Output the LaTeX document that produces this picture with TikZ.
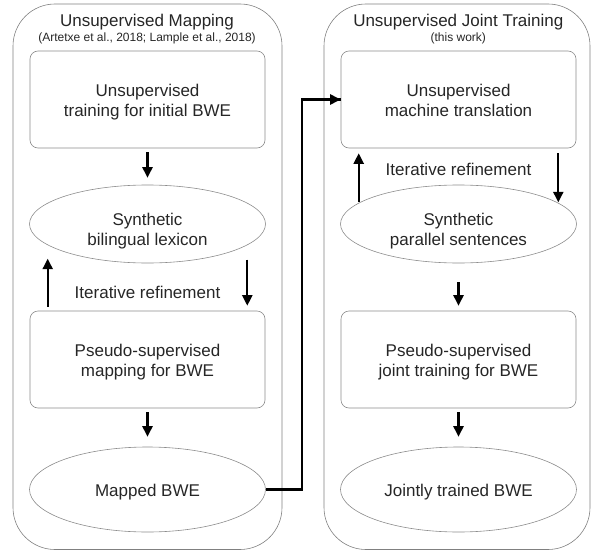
\documentclass[tikz,border=0pt]{standalone}
\usepackage{fontspec}
\setmainfont{Liberation Sans}
\usetikzlibrary{shapes.geometric,arrows.meta,calc}
\newcommand\myup[1]{\rule{0pt}{#1}}
\newcommand\mydn{\rule[-4pt]{0pt}{4pt}}
\begin{document}
\begin{tikzpicture}[x=1pt,y=-1pt,
  every node/.style={text=black!85},
  container/.style={draw=black!50, line width=0.6pt, rounded corners=42pt, minimum width=269pt, minimum height=545.5pt, inner sep=0pt},
  stepbox/.style={draw=black!45, line width=0.6pt, rounded corners=8pt, minimum width=235pt, minimum height=97pt, inner sep=0pt, align=center, font=\fontsize{17}{20}\selectfont},
  ell/.style={ellipse, draw=black!45, line width=0.6pt, minimum width=236pt, minimum height=78pt, inner sep=0pt, align=center, font=\fontsize{17}{20}\selectfont},
  lbl/.style={anchor=base, inner sep=0pt, font=\fontsize{17}{20}\selectfont},
  sub/.style={anchor=base, inner sep=0pt, font=\fontsize{12}{14}\selectfont},
  arr/.style={line width=2.2pt, -{Triangle[length=10.5pt,width=10pt]}},
  conn/.style={line width=2.2pt}
]
\useasboundingbox (0,0) rectangle (591,551);

% containers
\node[container] (lc) at (147.5,276.75) {};
\node[container, minimum width=266pt] (rc) at (457,276.75) {};

% titles
\node[lbl] (t1) at (147,27) {Unsupervised Mapping};
\node[sub] (s1) at (147,41.3) {(Artetxe et al., 2018; Lample et al., 2018)};
\node[lbl] (t2) at (458.3,27) {Unsupervised Joint Training};
\node[sub] (s2) at (458.3,41.3) {(this work)};

% left column
\node[stepbox] (b1) at (147.5,99.5) {\myup{18.4pt}Unsupervised\\training for initial BWE\mydn};
\node[ell] (e1) at (147.5,224) {\myup{26pt}Synthetic\\bilingual lexicon\mydn};
\node[stepbox] (b2) at (147.5,359.5) {\myup{18.4pt}Pseudo-supervised\\mapping for BWE\mydn};
\node[ell, minimum height=85pt] (e2) at (147.5,489.5) {\rule[-4pt]{0pt}{21pt}Mapped BWE};
\node[lbl] (it1) at (147.5,298.3) {Iterative refinement};

% right column
\node[stepbox] (b3) at (458.5,99.5) {\myup{18.4pt}Unsupervised\\machine translation\mydn};
\node[ell] (e3) at (458.5,224) {\myup{26pt}Synthetic\\parallel sentences\mydn};
\node[stepbox] (b4) at (458.5,359.5) {\myup{18.4pt}Pseudo-supervised\\joint training for BWE\mydn};
\node[ell, minimum height=85pt] (e4) at (458.5,489.5) {\rule[-4pt]{0pt}{21pt}Jointly trained BWE};
\node[lbl] (it2) at (458.5,175) {Iterative refinement};

% left arrows
\draw[arr, shorten <=4pt, shorten >=7pt] (b1.south) -- (e1.north);
\draw[arr] ($(b2.north west)+(18,-4)$) -- ++(0,-48);
\draw[arr] ($(b2.north east)+(-18,-51)$) -- ++(0,46);
\draw[arr, shorten <=4pt, shorten >=10pt] (b2.south) -- (e2.north);

% right arrows
\draw[arr] ($(b3.south west)+(18,54)$) -- ++(0,-49);
\draw[arr] ($(b3.south east)+(-18,5)$) -- ++(0,49);
\draw[arr, shorten <=19pt, shorten >=5pt] (e3.south) -- (b4.north);
\draw[arr, shorten <=4pt, shorten >=10pt] (b4.south) -- (e4.north);

% connector between columns
\draw[conn] (e2.east) -- ++(36,0) coordinate (bend) |- (b3.west);
\draw[arr] ($(b3.west)+(-12,0)$) -- (b3.west);
\end{tikzpicture}
\end{document}
